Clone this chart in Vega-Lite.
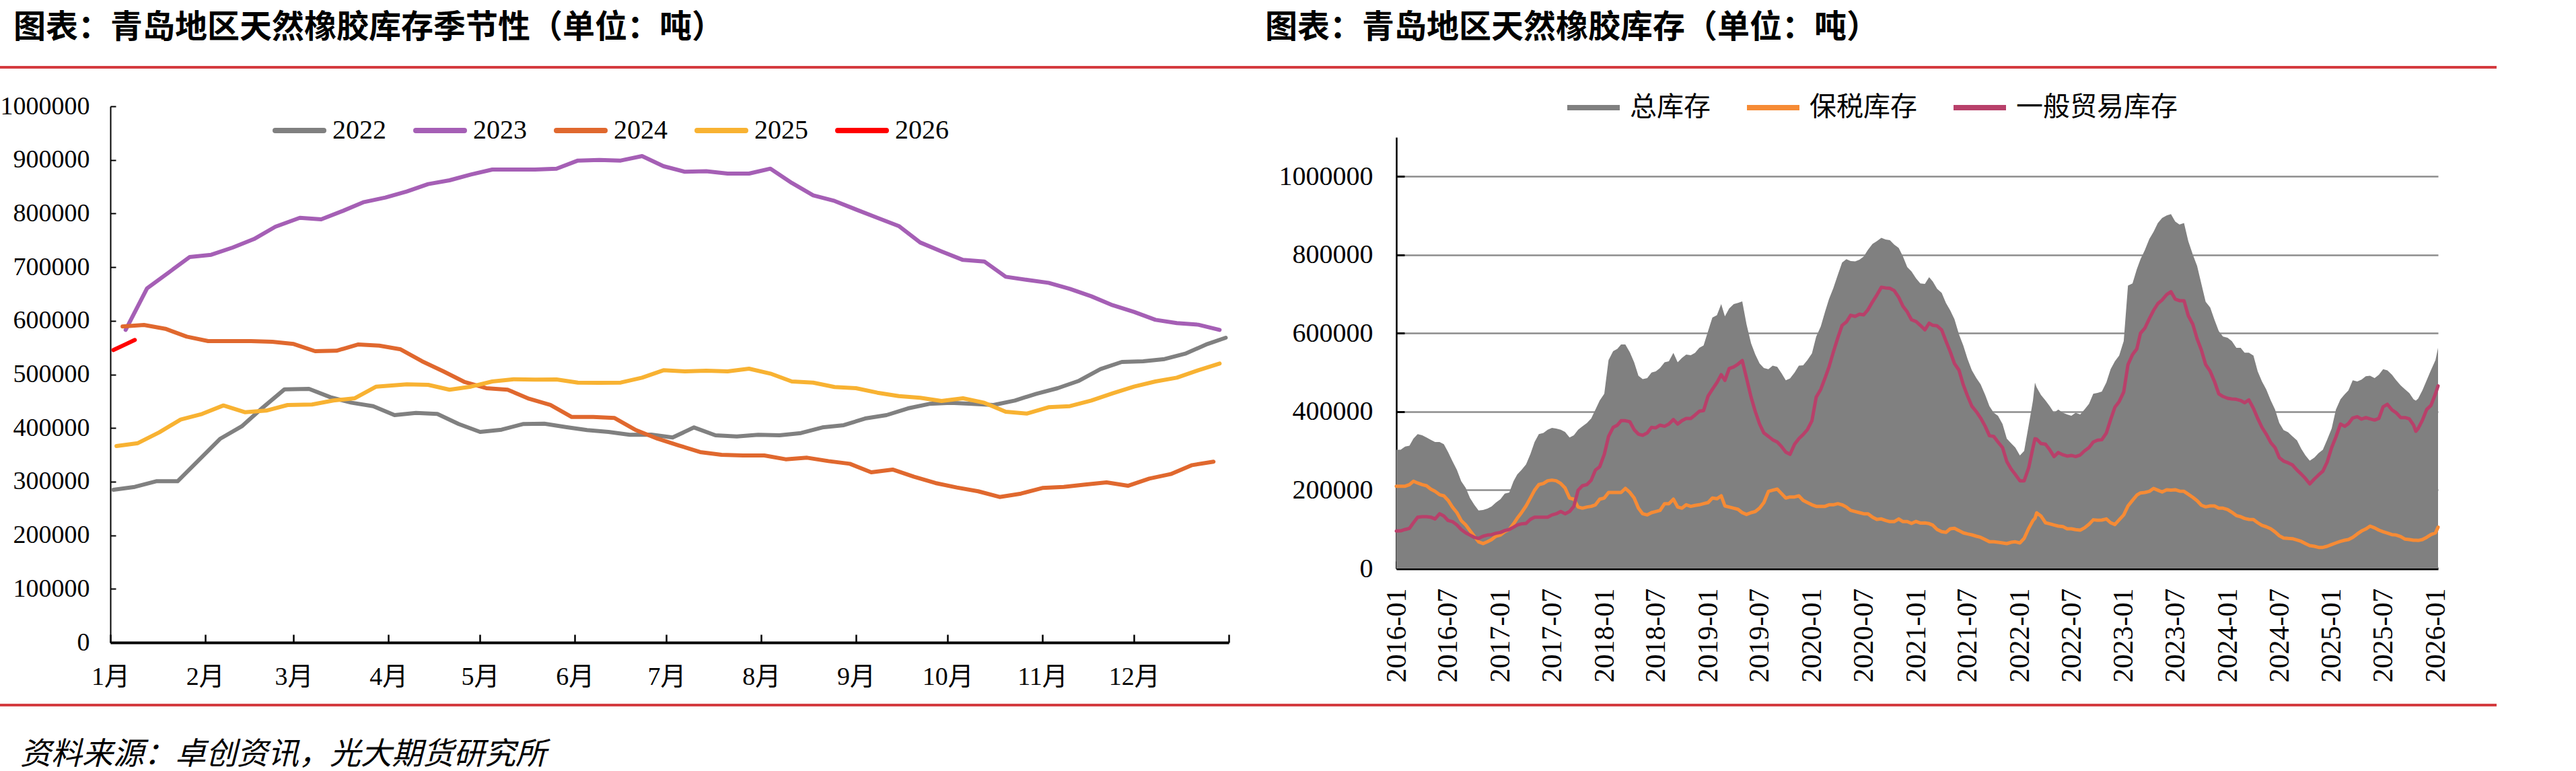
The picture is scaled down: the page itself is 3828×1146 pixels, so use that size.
{
  "$schema": "https://vega.github.io/schema/vega-lite/v6.json",
  "background": "white",
  "padding": {"left": 0, "top": 18, "right": 0, "bottom": 12},
  "config": {
    "view": {"stroke": null},
    "font": "Liberation Serif, Noto Sans CJK SC",
    "axis": {"labelColor": "black", "domainColor": "black", "tickColor": "black", "labelFont": "Liberation Serif, Noto Sans CJK SC", "title": null, "labelOverlap": false},
    "legend": {"labelFont": "Liberation Serif, Noto Sans CJK SC", "labelColor": "black"},
    "title": {"color": "black"}
  },
  "spacing": 21,
  "vconcat": [
    {
      "spacing": 15,
      "vconcat": [
        {
          "spacing": 0,
          "hconcat": [
            {
              "width": 1850, "height": 4,
              "view": {"fill": "#D43B3F", "stroke": null},
              "title": {"text": "图表：青岛地区天然橡胶库存季节性（单位：吨）", "anchor": "start", "dx": 20, "offset": 32, "font": "Noto Sans CJK SC", "fontSize": 48, "fontWeight": "bold", "color": "black"},
              "data": {"values": []},
              "mark": "point"
            },
            {
              "width": 1860, "height": 4,
              "view": {"fill": "#D43B3F", "stroke": null},
              "title": {"text": "图表：青岛地区天然橡胶库存（单位：吨）", "anchor": "start", "dx": 30, "offset": 32, "font": "Noto Sans CJK SC", "fontSize": 48, "fontWeight": "bold", "color": "black"},
              "data": {"values": []},
              "mark": "point"
            }
          ]
        },
        {
          "spacing": 72,
          "resolve": {"scale": {"color": "independent"}, "legend": {"color": "independent"}},
          "hconcat": [
            {
              "width": 1828, "height": 797,
              "data": {"values": [
                {"year":"2022","date":"2022-01-02","value":284800},{"year":"2022","date":"2022-01-09","value":290200},{"year":"2022","date":"2022-01-16","value":300700},{"year":"2022","date":"2022-01-23","value":300700},{"year":"2022","date":"2022-01-30","value":340400},{"year":"2022","date":"2022-02-06","value":380200},{"year":"2022","date":"2022-02-13","value":403200},{"year":"2022","date":"2022-02-20","value":438700},{"year":"2022","date":"2022-02-27","value":472200},{"year":"2022","date":"2022-03-06","value":473000},{"year":"2022","date":"2022-03-13","value":457500},{"year":"2022","date":"2022-03-20","value":447100},{"year":"2022","date":"2022-03-27","value":440800},{"year":"2022","date":"2022-04-03","value":424100},{"year":"2022","date":"2022-04-10","value":428300},{"year":"2022","date":"2022-04-17","value":426200},{"year":"2022","date":"2022-04-24","value":407400},{"year":"2022","date":"2022-05-01","value":392700},{"year":"2022","date":"2022-05-08","value":396900},{"year":"2022","date":"2022-05-15","value":407400},{"year":"2022","date":"2022-05-22","value":408200},{"year":"2022","date":"2022-05-29","value":401900},{"year":"2022","date":"2022-06-05","value":396100},{"year":"2022","date":"2022-06-12","value":392700},{"year":"2022","date":"2022-06-19","value":387300},{"year":"2022","date":"2022-06-26","value":387700},{"year":"2022","date":"2022-07-03","value":382300},{"year":"2022","date":"2022-07-10","value":401100},{"year":"2022","date":"2022-07-17","value":386400},{"year":"2022","date":"2022-07-24","value":384300},{"year":"2022","date":"2022-07-31","value":387300},{"year":"2022","date":"2022-08-07","value":386400},{"year":"2022","date":"2022-08-14","value":390600},{"year":"2022","date":"2022-08-21","value":401100},{"year":"2022","date":"2022-08-28","value":405300},{"year":"2022","date":"2022-09-04","value":417800},{"year":"2022","date":"2022-09-11","value":424100},{"year":"2022","date":"2022-09-18","value":436600},{"year":"2022","date":"2022-09-25","value":445000},{"year":"2022","date":"2022-10-02","value":447100},{"year":"2022","date":"2022-10-09","value":445000},{"year":"2022","date":"2022-10-16","value":442900},{"year":"2022","date":"2022-10-23","value":451300},{"year":"2022","date":"2022-10-30","value":463800},{"year":"2022","date":"2022-11-06","value":474300},{"year":"2022","date":"2022-11-13","value":488100},{"year":"2022","date":"2022-11-20","value":509800},{"year":"2022","date":"2022-11-27","value":523200},{"year":"2022","date":"2022-12-04","value":524500},{"year":"2022","date":"2022-12-11","value":528600},{"year":"2022","date":"2022-12-18","value":539100},{"year":"2022","date":"2022-12-25","value":556700},{"year":"2022","date":"2022-12-31","value":568400},
                {"year":"2023","date":"2023-01-06","value":583000},{"year":"2023","date":"2023-01-13","value":660400},{"year":"2023","date":"2023-01-20","value":689700},{"year":"2023","date":"2023-01-27","value":719000},{"year":"2023","date":"2023-02-03","value":723100},{"year":"2023","date":"2023-02-10","value":736500},{"year":"2023","date":"2023-02-17","value":752400},{"year":"2023","date":"2023-02-24","value":775400},{"year":"2023","date":"2023-03-03","value":792100},{"year":"2023","date":"2023-03-10","value":789200},{"year":"2023","date":"2023-03-17","value":804700},{"year":"2023","date":"2023-03-24","value":821400},{"year":"2023","date":"2023-03-31","value":829800},{"year":"2023","date":"2023-04-07","value":841100},{"year":"2023","date":"2023-04-14","value":854900},{"year":"2023","date":"2023-04-21","value":862000},{"year":"2023","date":"2023-04-28","value":872800},{"year":"2023","date":"2023-05-05","value":882100},{"year":"2023","date":"2023-05-12","value":882100},{"year":"2023","date":"2023-05-19","value":882100},{"year":"2023","date":"2023-05-26","value":883700},{"year":"2023","date":"2023-06-02","value":898800},{"year":"2023","date":"2023-06-09","value":900000},{"year":"2023","date":"2023-06-16","value":898800},{"year":"2023","date":"2023-06-23","value":907100},{"year":"2023","date":"2023-06-30","value":888300},{"year":"2023","date":"2023-07-07","value":877900},{"year":"2023","date":"2023-07-14","value":878900},{"year":"2023","date":"2023-07-21","value":874500},{"year":"2023","date":"2023-07-28","value":874500},{"year":"2023","date":"2023-08-04","value":883700},{"year":"2023","date":"2023-08-11","value":857000},{"year":"2023","date":"2023-08-18","value":834000},{"year":"2023","date":"2023-08-25","value":823500},{"year":"2023","date":"2023-09-01","value":807600},{"year":"2023","date":"2023-09-08","value":792100},{"year":"2023","date":"2023-09-15","value":776700},{"year":"2023","date":"2023-09-22","value":746100},{"year":"2023","date":"2023-09-29","value":729400},{"year":"2023","date":"2023-10-06","value":713500},{"year":"2023","date":"2023-10-13","value":710600},{"year":"2023","date":"2023-10-20","value":682100},{"year":"2023","date":"2023-10-27","value":676300},{"year":"2023","date":"2023-11-03","value":670800},{"year":"2023","date":"2023-11-10","value":659500},{"year":"2023","date":"2023-11-17","value":645700},{"year":"2023","date":"2023-11-24","value":629000},{"year":"2023","date":"2023-12-01","value":616500},{"year":"2023","date":"2023-12-08","value":601800},{"year":"2023","date":"2023-12-15","value":595600},{"year":"2023","date":"2023-12-22","value":592700},{"year":"2023","date":"2023-12-29","value":583000},
                {"year":"2024","date":"2024-01-05","value":589300},{"year":"2024","date":"2024-01-12","value":592200},{"year":"2024","date":"2024-01-19","value":585100},{"year":"2024","date":"2024-01-26","value":570500},{"year":"2024","date":"2024-02-02","value":562100},{"year":"2024","date":"2024-02-09","value":562100},{"year":"2024","date":"2024-02-16","value":562100},{"year":"2024","date":"2024-02-23","value":560900},{"year":"2024","date":"2024-03-01","value":556700},{"year":"2024","date":"2024-03-08","value":543300},{"year":"2024","date":"2024-03-15","value":544100},{"year":"2024","date":"2024-03-22","value":555800},{"year":"2024","date":"2024-03-29","value":553700},{"year":"2024","date":"2024-04-05","value":546700},{"year":"2024","date":"2024-04-12","value":524500},{"year":"2024","date":"2024-04-19","value":505600},{"year":"2024","date":"2024-04-26","value":485600},{"year":"2024","date":"2024-05-03","value":474300},{"year":"2024","date":"2024-05-10","value":471400},{"year":"2024","date":"2024-05-17","value":454600},{"year":"2024","date":"2024-05-24","value":443000},{"year":"2024","date":"2024-05-31","value":420500},{"year":"2024","date":"2024-06-07","value":420700},{"year":"2024","date":"2024-06-14","value":418700},{"year":"2024","date":"2024-06-21","value":396100},{"year":"2024","date":"2024-06-28","value":380200},{"year":"2024","date":"2024-07-05","value":367600},{"year":"2024","date":"2024-07-12","value":355100},{"year":"2024","date":"2024-07-19","value":350100},{"year":"2024","date":"2024-07-26","value":348800},{"year":"2024","date":"2024-08-02","value":348800},{"year":"2024","date":"2024-08-09","value":341700},{"year":"2024","date":"2024-08-16","value":344600},{"year":"2024","date":"2024-08-23","value":338300},{"year":"2024","date":"2024-08-30","value":333300},{"year":"2024","date":"2024-09-06","value":317400},{"year":"2024","date":"2024-09-13","value":322500},{"year":"2024","date":"2024-09-20","value":309100},{"year":"2024","date":"2024-09-27","value":297400},{"year":"2024","date":"2024-10-04","value":289000},{"year":"2024","date":"2024-10-11","value":282000},{"year":"2024","date":"2024-10-18","value":271400},{"year":"2024","date":"2024-10-25","value":277700},{"year":"2024","date":"2024-11-01","value":288200},{"year":"2024","date":"2024-11-08","value":290200},{"year":"2024","date":"2024-11-15","value":294500},{"year":"2024","date":"2024-11-22","value":298600},{"year":"2024","date":"2024-11-29","value":292300},{"year":"2024","date":"2024-12-06","value":305700},{"year":"2024","date":"2024-12-13","value":314100},{"year":"2024","date":"2024-12-20","value":330800},{"year":"2024","date":"2024-12-27","value":337100},
                {"year":"2025","date":"2025-01-03","value":366400},{"year":"2025","date":"2025-01-10","value":371800},{"year":"2025","date":"2025-01-17","value":391900},{"year":"2025","date":"2025-01-24","value":415700},{"year":"2025","date":"2025-01-31","value":426200},{"year":"2025","date":"2025-02-07","value":442100},{"year":"2025","date":"2025-02-14","value":429500},{"year":"2025","date":"2025-02-21","value":432500},{"year":"2025","date":"2025-02-28","value":442900},{"year":"2025","date":"2025-03-07","value":443800},{"year":"2025","date":"2025-03-14","value":451300},{"year":"2025","date":"2025-03-21","value":455500},{"year":"2025","date":"2025-03-28","value":477200},{"year":"2025","date":"2025-04-07","value":481400},{"year":"2025","date":"2025-04-14","value":480600},{"year":"2025","date":"2025-04-21","value":471400},{"year":"2025","date":"2025-04-28","value":477200},{"year":"2025","date":"2025-05-05","value":486800},{"year":"2025","date":"2025-05-12","value":491000},{"year":"2025","date":"2025-05-19","value":490200},{"year":"2025","date":"2025-05-26","value":490500},{"year":"2025","date":"2025-06-02","value":484700},{"year":"2025","date":"2025-06-09","value":484300},{"year":"2025","date":"2025-06-16","value":484700},{"year":"2025","date":"2025-06-23","value":493900},{"year":"2025","date":"2025-06-30","value":507700},{"year":"2025","date":"2025-07-07","value":505600},{"year":"2025","date":"2025-07-14","value":506900},{"year":"2025","date":"2025-07-21","value":505600},{"year":"2025","date":"2025-07-28","value":510700},{"year":"2025","date":"2025-08-04","value":501500},{"year":"2025","date":"2025-08-11","value":486800},{"year":"2025","date":"2025-08-18","value":484700},{"year":"2025","date":"2025-08-25","value":476400},{"year":"2025","date":"2025-09-01","value":474300},{"year":"2025","date":"2025-09-08","value":465900},{"year":"2025","date":"2025-09-15","value":459600},{"year":"2025","date":"2025-09-22","value":456300},{"year":"2025","date":"2025-09-29","value":450400},{"year":"2025","date":"2025-10-06","value":455500},{"year":"2025","date":"2025-10-13","value":447100},{"year":"2025","date":"2025-10-20","value":430400},{"year":"2025","date":"2025-10-27","value":427000},{"year":"2025","date":"2025-11-03","value":438700},{"year":"2025","date":"2025-11-10","value":440800},{"year":"2025","date":"2025-11-17","value":451300},{"year":"2025","date":"2025-11-24","value":464700},{"year":"2025","date":"2025-12-01","value":477200},{"year":"2025","date":"2025-12-08","value":486800},{"year":"2025","date":"2025-12-15","value":493900},{"year":"2025","date":"2025-12-22","value":507700},{"year":"2025","date":"2025-12-29","value":520300},
                {"year":"2026","date":"2026-01-02","value":545400},{"year":"2026","date":"2026-01-09","value":564200}
              ]},
              "mark": {"type": "line", "strokeWidth": 6, "strokeCap": "round", "strokeJoin": "round"},
              "encoding": {
                "x": {
                  "field": "date", "type": "temporal", "timeUnit": "utcmonthdate",
                  "scale": {"domain": [{"year": 2012, "month": 1, "date": 1, "utc": true}, {"year": 2013, "month": 1, "date": 1, "utc": true}], "range": [164, 1826]},
                  "axis": {
                    "values": [
                      {"year": 2012, "month": 1, "date": 1, "utc": true}, {"year": 2012, "month": 2, "date": 1, "utc": true}, {"year": 2012, "month": 3, "date": 1, "utc": true}, {"year": 2012, "month": 4, "date": 1, "utc": true}, {"year": 2012, "month": 5, "date": 1, "utc": true}, {"year": 2012, "month": 6, "date": 1, "utc": true}, {"year": 2012, "month": 7, "date": 1, "utc": true}, {"year": 2012, "month": 8, "date": 1, "utc": true}, {"year": 2012, "month": 9, "date": 1, "utc": true}, {"year": 2012, "month": 10, "date": 1, "utc": true}, {"year": 2012, "month": 11, "date": 1, "utc": true}, {"year": 2012, "month": 12, "date": 1, "utc": true}, {"year": 2013, "month": 1, "date": 1, "utc": true}
                    ],
                    "labelExpr": "utcyear(datum.value) > 2012 ? '' : (utcmonth(datum.value) + 1) + '月'",
                    "labelFontSize": 38, "labelPadding": 44, "labelFlush": false, "labelAngle": 0, "labelBaseline": "top",
                    "tickSize": -12, "tickWidth": 2.5, "domainWidth": 4, "grid": false
                  }
                },
                "y": {
                  "field": "value", "type": "quantitative",
                  "scale": {"domain": [0, 1000000], "nice": false},
                  "axis": {"values": [0, 100000, 200000, 300000, 400000, 500000, 600000, 700000, 800000, 900000, 1000000], "format": "d", "offset": -164, "labelFontSize": 38, "labelPadding": 39, "tickSize": -8, "tickWidth": 2, "domainWidth": 2, "grid": false}
                },
                "color": {
                  "field": "year", "type": "nominal", "title": null,
                  "scale": {"domain": ["2022", "2023", "2024", "2025", "2026"], "range": ["#808080", "#A55FB5", "#E0682E", "#F8B232", "#FF0000"]},
                  "legend": {
                    "orient": "none", "legendX": 405, "legendY": -4, "direction": "horizontal", "columns": 5, "title": null,
                    "labelFontSize": 40, "symbolType": "stroke", "symbolSize": 5184, "symbolStrokeWidth": 8,
                    "labelOffset": 9, "columnPadding": 28, "padding": 0, "rowPadding": 0,
                    "encode": {"symbols": {"update": {"strokeCap": {"value": "round"}, "opacity": {"value": 1}}}}
                  }
                }
              }
            },
            {
              "width": 1548, "height": 687,
              "data": {"values": [
                {"date":"2016-01-01","总库存":302700,"保税库存":210000,"一般贸易库存":95500},
                {"date":"2016-01-16","总库存":303000,"保税库存":210000,"一般贸易库存":96000},
                {"date":"2016-02-01","总库存":311200,"保税库存":210000,"一般贸易库存":99600},
                {"date":"2016-02-16","总库存":313000,"保税库存":214000,"一般贸易库存":102400},
                {"date":"2016-03-01","总库存":331300,"保税库存":222600,"一般贸易库存":116700},
                {"date":"2016-03-16","总库存":342700,"保税库存":218000,"一般贸易库存":131000},
                {"date":"2016-04-01","总库存":339800,"保税库存":214000,"一般贸易库存":132200},
                {"date":"2016-04-16","总库存":334100,"保税库存":211100,"一般贸易库存":132200},
                {"date":"2016-05-01","总库存":328400,"保税库存":202500,"一般贸易库存":131000},
                {"date":"2016-05-16","总库存":322700,"保税库存":196800,"一般贸易库存":126400},
                {"date":"2016-06-01","总库存":322700,"保税库存":188200,"一般贸易库存":139600},
                {"date":"2016-06-16","总库存":317000,"保税库存":185400,"一般贸易库存":133900},
                {"date":"2016-07-01","总库存":296900,"保税库存":173900,"一般贸易库存":122400},
                {"date":"2016-07-16","总库存":274000,"保税库存":156800,"一般贸易库存":119600},
                {"date":"2016-08-01","总库存":251200,"保税库存":142500,"一般贸易库存":111000},
                {"date":"2016-08-16","总库存":222600,"保税库存":122400,"一般贸易库存":99600},
                {"date":"2016-09-01","总库存":205400,"保税库存":111000,"一般贸易库存":91000},
                {"date":"2016-09-16","总库存":179600,"保税库存":96700,"一般贸易库存":85200},
                {"date":"2016-10-01","总库存":162500,"保税库存":82400,"一般贸易库存":79500},
                {"date":"2016-10-16","总库存":148200,"保税库存":68100,"一般贸易库存":76700},
                {"date":"2016-11-01","总库存":149300,"保税库存":63500,"一般贸易库存":82400},
                {"date":"2016-11-16","总库存":152800,"保税库存":68100,"一般贸易库存":85200},
                {"date":"2016-12-01","总库存":158500,"保税库存":73800,"一般贸易库存":86400},
                {"date":"2016-12-16","总库存":168200,"保税库存":82400,"一般贸易库存":89800},
                {"date":"2017-01-01","总库存":176800,"保税库存":85200,"一般贸易库存":92100},
                {"date":"2017-01-16","总库存":191100,"保税库存":93800,"一般贸易库存":96700},
                {"date":"2017-02-01","总库存":194000,"保税库存":99600,"一般贸易库存":99600},
                {"date":"2017-02-16","总库存":222600,"保税库存":113900,"一般贸易库存":105300},
                {"date":"2017-03-01","总库存":239700,"保税库存":128200,"一般贸易库存":111000},
                {"date":"2017-03-16","总库存":251200,"保税库存":142500,"一般贸易库存":113900},
                {"date":"2017-04-01","总库存":265500,"保税库存":159600,"一般贸易库存":115000},
                {"date":"2017-04-16","总库存":291200,"保税库存":179600,"一般贸易库存":125300},
                {"date":"2017-05-01","总库存":322700,"保税库存":199700,"一般贸易库存":131000},
                {"date":"2017-05-16","总库存":342700,"保税库存":214000,"一般贸易库存":131000},
                {"date":"2017-06-01","总库存":345600,"保税库存":216800,"一般贸易库存":131000},
                {"date":"2017-06-16","总库存":354100,"保税库存":223700,"一般贸易库存":131000},
                {"date":"2017-07-01","总库存":358700,"保税库存":225400,"一般贸易库存":136700},
                {"date":"2017-07-16","总库存":357000,"保税库存":223700,"一般贸易库存":139600},
                {"date":"2017-08-01","总库存":354100,"保税库存":216800,"一般贸易库存":145300},
                {"date":"2017-08-16","总库存":348400,"保税库存":205400,"一般贸易库存":139600},
                {"date":"2017-09-01","总库存":334100,"保税库存":179600,"一般贸易库存":145300},
                {"date":"2017-09-16","总库存":339800,"保税库存":176800,"一般贸易库存":158500},
                {"date":"2017-10-01","总库存":354100,"保税库存":156800,"一般贸易库存":199700},
                {"date":"2017-10-16","总库存":362700,"保税库存":153900,"一般贸易库存":211100},
                {"date":"2017-11-01","总库存":371300,"保税库存":156800,"一般贸易库存":214000},
                {"date":"2017-11-16","总库存":382800,"保税库存":158500,"一般贸易库存":225400},
                {"date":"2017-12-01","总库存":405600,"保税库存":162500,"一般贸易库存":251200},
                {"date":"2017-12-16","总库存":428500,"保税库存":176800,"一般贸易库存":259700},
                {"date":"2018-01-01","总库存":445700,"保税库存":179600,"一般贸易库存":291200},
                {"date":"2018-01-16","总库存":531500,"保税库存":194000,"一般贸易库存":337000},
                {"date":"2018-02-01","总库存":554400,"保税库存":194000,"一般贸易库存":359900},
                {"date":"2018-02-16","总库存":560100,"保税库存":194000,"一般贸易库存":365600},
                {"date":"2018-03-01","总库存":571600,"保税库存":194000,"一般贸易库存":377000},
                {"date":"2018-03-16","总库存":571600,"保税库存":204300,"一般贸易库存":377000},
                {"date":"2018-04-01","总库存":551500,"保税库存":194000,"一般贸易库存":374200},
                {"date":"2018-04-16","总库存":525800,"保税库存":179600,"一般贸易库存":354100},
                {"date":"2018-05-01","总库存":491500,"保税库存":153900,"一般贸易库存":342700},
                {"date":"2018-05-16","总库存":482900,"保税库存":139600,"一般贸易库存":339800},
                {"date":"2018-06-01","总库存":485700,"保税库存":136700,"一般贸易库存":345600},
                {"date":"2018-06-16","总库存":500000,"保税库存":142500,"一般贸易库存":359900},
                {"date":"2018-07-01","总库存":502900,"保税库存":145300,"一般贸易库存":358700},
                {"date":"2018-07-16","总库存":511500,"保税库存":148200,"一般贸易库存":365600},
                {"date":"2018-08-01","总库存":525800,"保税库存":165300,"一般贸易库存":362700},
                {"date":"2018-08-16","总库存":528600,"保税库存":165300,"一般贸易库存":368500},
                {"date":"2018-09-01","总库存":549800,"保税库存":176800,"一般贸易库存":379900},
                {"date":"2018-09-16","总库存":525800,"保税库存":156800,"一般贸易库存":368500},
                {"date":"2018-10-01","总库存":537200,"保税库存":153900,"一般贸易库存":377000},
                {"date":"2018-10-16","总库存":545800,"保税库存":162500,"一般贸易库存":382800},
                {"date":"2018-11-01","总库存":544100,"保税库存":158500,"一般贸易库存":382800},
                {"date":"2018-11-16","总库存":549800,"保税库存":160800,"一般贸易库存":391300},
                {"date":"2018-12-01","总库存":563000,"保税库存":162500,"一般贸易库存":401100},
                {"date":"2018-12-16","总库存":568700,"保税库存":165300,"一般贸易库存":402800},
                {"date":"2019-01-01","总库存":605900,"保税库存":168200,"一般贸易库存":440000},
                {"date":"2019-01-16","总库存":640200,"保税库存":179600,"一般贸易库存":457100},
                {"date":"2019-02-01","总库存":645900,"保税库存":177900,"一般贸易库存":474300},
                {"date":"2019-02-16","总库存":674500,"保税库存":185400,"一般贸易库存":494300},
                {"date":"2019-03-01","总库存":643100,"保税库存":159600,"一般贸易库存":480000},
                {"date":"2019-03-16","总库存":663100,"保税库存":156800,"一般贸易库存":509800},
                {"date":"2019-04-01","总库存":674500,"保税库存":153900,"一般贸易库存":514300},
                {"date":"2019-04-16","总库存":677400,"保税库存":151000,"一般贸易库存":521200},
                {"date":"2019-05-01","总库存":681400,"保税库存":142500,"一般贸易库存":530400},
                {"date":"2019-05-16","总库存":623000,"保税库存":137900,"一般贸易库存":485700},
                {"date":"2019-06-01","总库存":574400,"保税库存":142500,"一般贸易库存":437100},
                {"date":"2019-06-16","总库存":545800,"保税库存":145300,"一般贸易库存":399900},
                {"date":"2019-07-01","总库存":522900,"保税库存":153900,"一般贸易库存":368500},
                {"date":"2019-07-16","总库存":511500,"保税库存":168200,"一般贸易库存":345600},
                {"date":"2019-08-01","总库存":508600,"保税库存":196800,"一般贸易库存":337000},
                {"date":"2019-08-16","总库存":517200,"保税库存":199700,"一般贸易库存":328400},
                {"date":"2019-09-01","总库存":514300,"保税库存":202500,"一般贸易库存":322700},
                {"date":"2019-09-16","总库存":498300,"保税库存":191100,"一般贸易库存":311200},
                {"date":"2019-10-01","总库存":480000,"保税库存":179600,"一般贸易库存":296900},
                {"date":"2019-10-16","总库存":484600,"保税库存":182500,"一般贸易库存":291200},
                {"date":"2019-11-01","总库存":500000,"保税库存":182500,"一般贸易库存":317000},
                {"date":"2019-11-16","总库存":517200,"保税库存":185400,"一般贸易库存":331300},
                {"date":"2019-12-01","总库存":518400,"保税库存":173900,"一般贸易库存":341600},
                {"date":"2019-12-16","总库存":531500,"保税库存":168200,"一般贸易库存":354100},
                {"date":"2020-01-01","总库存":548700,"保税库存":162500,"一般贸易库存":377000},
                {"date":"2020-01-16","总库存":591600,"保税库存":158500,"一般贸易库存":437100},
                {"date":"2020-02-01","总库存":617300,"保税库存":158500,"一般贸易库存":457100},
                {"date":"2020-02-16","总库存":654500,"保税库存":158500,"一般贸易库存":485700},
                {"date":"2020-03-01","总库存":687100,"保税库存":162500,"一般贸易库存":514300},
                {"date":"2020-03-16","总库存":714600,"保税库存":162500,"一般贸易库存":551500},
                {"date":"2020-04-01","总库存":748900,"保税库存":165300,"一般贸易库存":588700},
                {"date":"2020-04-16","总库存":780400,"保税库存":162500,"一般贸易库存":620200},
                {"date":"2020-05-01","总库存":789000,"保税库存":156800,"一般贸易库存":628800},
                {"date":"2020-05-16","总库存":784400,"保税库存":148200,"一般贸易库存":645900},
                {"date":"2020-06-01","总库存":783300,"保税库存":145300,"一般贸易库存":643100},
                {"date":"2020-06-16","总库存":787800,"保税库存":142500,"一般贸易库存":648800},
                {"date":"2020-07-01","总库存":795800,"保税库存":139600,"一般贸易库存":647100},
                {"date":"2020-07-16","总库存":813000,"保税库存":139600,"一般贸易库存":660200},
                {"date":"2020-08-01","总库存":827900,"保税库存":131000,"一般贸易库存":680300},
                {"date":"2020-08-16","总库存":834700,"保税库存":125300,"一般贸易库存":697400},
                {"date":"2020-09-01","总库存":843300,"保税库存":126400,"一般贸易库存":717500},
                {"date":"2020-09-16","总库存":839300,"保税库存":122400,"一般贸易库存":715700},
                {"date":"2020-10-01","总库存":837600,"保税库存":119600,"一般贸易库存":714600},
                {"date":"2020-10-16","总库存":826200,"保税库存":119600,"一般贸易库存":708900},
                {"date":"2020-11-01","总库存":817600,"保税库存":126400,"一般贸易库存":691700},
                {"date":"2020-11-16","总库存":795800,"保税库存":119600,"一般贸易库存":668800},
                {"date":"2020-12-01","总库存":769000,"保税库存":119600,"一般贸易库存":654500},
                {"date":"2020-12-16","总库存":757500,"保税库存":115000,"一般贸易库存":634500},
                {"date":"2021-01-01","总库存":740000,"保税库存":120000,"一般贸易库存":630000},
                {"date":"2021-01-16","总库存":727200,"保税库存":116000,"一般贸易库存":620200},
                {"date":"2021-02-01","总库存":726000,"保税库存":116100,"一般贸易库存":608700},
                {"date":"2021-02-16","总库存":743200,"保税库存":114400,"一般贸易库存":625900},
                {"date":"2021-03-01","总库存":731800,"保税库存":110400,"一般贸易库存":620200},
                {"date":"2021-03-16","总库存":713400,"保税库存":99600,"一般贸易库存":619000},
                {"date":"2021-04-01","总库存":703100,"保税库存":93800,"一般贸易库存":608700},
                {"date":"2021-04-16","总库存":677400,"保税库存":92100,"一般贸易库存":580100},
                {"date":"2021-05-01","总库存":658500,"保税库存":101300,"一般贸易库存":553200},
                {"date":"2021-05-16","总库存":635600,"保税库存":102400,"一般贸易库存":522900},
                {"date":"2021-06-01","总库存":597300,"保税库存":96700,"一般贸易库存":505800},
                {"date":"2021-06-16","总库存":568700,"保税库存":91000,"一般贸易库存":468600},
                {"date":"2021-07-01","总库存":534400,"保税库存":88100,"一般贸易库存":440000},
                {"date":"2021-07-16","总库存":505800,"保税库存":85800,"一般贸易库存":414200},
                {"date":"2021-08-01","总库存":485700,"保税库存":82400,"一般贸易库存":399900},
                {"date":"2021-08-16","总库存":469700,"保税库存":79500,"一般贸易库存":383900},
                {"date":"2021-09-01","总库存":442800,"保税库存":73800,"一般贸易库存":362700},
                {"date":"2021-09-16","总库存":414200,"保税库存":68100,"一般贸易库存":338700},
                {"date":"2021-10-01","总库存":397100,"保税库存":68100,"一般贸易库存":337000},
                {"date":"2021-10-16","总库存":389600,"保税库存":66900,"一般贸易库存":322700},
                {"date":"2021-11-01","总库存":368500,"保税库存":65200,"一般贸易库存":308400},
                {"date":"2021-11-16","总库存":331300,"保税库存":63500,"一般贸易库存":272900},
                {"date":"2021-12-01","总库存":319800,"保税库存":66900,"一般贸易库存":254000},
                {"date":"2021-12-16","总库存":308400,"保税库存":68100,"一般贸易库存":239700},
                {"date":"2022-01-01","总库存":288400,"保税库存":65200,"一般贸易库存":223700},
                {"date":"2022-01-16","总库存":299800,"保税库存":76700,"一般贸易库存":223700},
                {"date":"2022-02-01","总库存":365600,"保税库存":102400,"一般贸易库存":256900},
                {"date":"2022-02-16","总库存":428500,"保税库存":122400,"一般贸易库存":308400},
                {"date":"2022-02-23","总库存":474000,"保税库存":128000,"一般贸易库存":331000},
                {"date":"2022-03-01","总库存":462000,"保税库存":142000,"一般贸易库存":330100},
                {"date":"2022-03-16","总库存":442800,"保税库存":133900,"一般贸易库存":318700},
                {"date":"2022-04-01","总库存":428500,"保税库存":116700,"一般贸易库存":317000},
                {"date":"2022-04-16","总库存":414200,"保税库存":113900,"一般贸易库存":302700},
                {"date":"2022-05-01","总库存":397100,"保税库存":111000,"一般贸易库存":285500},
                {"date":"2022-05-16","总库存":405600,"保税库存":108100,"一般贸易库存":295800},
                {"date":"2022-06-01","总库存":397100,"保税库存":107000,"一般贸易库存":290100},
                {"date":"2022-06-16","总库存":393100,"保税库存":101300,"一般贸易库存":286600},
                {"date":"2022-07-01","总库存":389600,"保税库存":101300,"一般贸易库存":288400},
                {"date":"2022-07-16","总库存":397100,"保税库存":99000,"一般贸易库存":285500},
                {"date":"2022-08-01","总库存":393100,"保税库存":97800,"一般贸易库存":289500},
                {"date":"2022-08-16","总库存":405600,"保税库存":103600,"一般贸易库存":299800},
                {"date":"2022-09-01","总库存":419900,"保税库存":112700,"一般贸易库存":308400},
                {"date":"2022-09-16","总库存":445700,"保税库存":124200,"一般贸易库存":322700},
                {"date":"2022-10-01","总库存":448000,"保税库存":123000,"一般贸易库存":327300},
                {"date":"2022-10-16","总库存":451400,"保税库存":123600,"一般贸易库存":328400},
                {"date":"2022-11-01","总库存":474300,"保税库存":126400,"一般贸易库存":345600},
                {"date":"2022-11-16","总库存":508600,"保税库存":116700,"一般贸易库存":379900},
                {"date":"2022-12-01","总库存":528600,"保税库存":112100,"一般贸易库存":411400},
                {"date":"2022-12-16","总库存":543000,"保税库存":124200,"一般贸易库存":425700},
                {"date":"2023-01-01","总库存":580100,"保税库存":136700,"一般贸易库存":450300},
                {"date":"2023-01-16","总库存":721500,"保税库存":159600,"一般贸易库存":520100},
                {"date":"2023-02-01","总库存":727200,"保税库存":173900,"一般贸易库存":545800},
                {"date":"2023-02-16","总库存":763200,"保税库存":187100,"一般贸易库存":560100},
                {"date":"2023-03-01","总库存":789000,"保税库存":192800,"一般贸易库存":600200},
                {"date":"2023-03-16","总库存":811900,"保税库存":194000,"一般贸易库存":612700},
                {"date":"2023-04-01","总库存":840500,"保税库存":196800,"一般贸易库存":637300},
                {"date":"2023-04-16","总库存":858800,"保税库存":204300,"一般贸易库存":658500},
                {"date":"2023-05-01","总库存":881100,"保税库存":199700,"一般贸易库存":675700},
                {"date":"2023-05-16","总库存":894200,"保税库存":195100,"一般贸易库存":684800},
                {"date":"2023-06-01","总库存":900300,"保税库存":200800,"一般贸易库存":698600},
                {"date":"2023-06-16","总库存":904100,"保税库存":200000,"一般贸易库存":706000},
                {"date":"2023-07-01","总库存":885000,"保税库存":200800,"一般贸易库存":687100},
                {"date":"2023-07-16","总库存":877300,"保税库存":197400,"一般贸易库存":683100},
                {"date":"2023-08-01","总库存":881100,"保税库存":196800,"一般贸易库存":683100},
                {"date":"2023-08-16","总库存":834700,"保税库存":189400,"一般贸易库存":644800},
                {"date":"2023-09-01","总库存":800400,"保税库存":181400,"一般贸易库存":623000},
                {"date":"2023-09-16","总库存":771800,"保税库存":172800,"一般贸易库存":585900},
                {"date":"2023-10-01","总库存":726000,"保税库存":161300,"一般贸易库存":557300},
                {"date":"2023-10-16","总库存":680300,"保税库存":157300,"一般贸易库存":520100},
                {"date":"2023-11-01","总库存":666000,"保税库存":159600,"一般贸易库存":502900},
                {"date":"2023-11-16","总库存":634500,"保税库存":159600,"一般贸易库存":477200},
                {"date":"2023-12-01","总库存":605900,"保税库存":153900,"一般贸易库存":445700},
                {"date":"2023-12-16","总库存":591600,"保税库存":153900,"一般贸易库存":438800},
                {"date":"2024-01-01","总库存":588700,"保税库存":150500,"一般贸易库存":434200},
                {"date":"2024-01-16","总库存":580100,"保税库存":143600,"一般贸易库存":432500},
                {"date":"2024-02-01","总库存":563000,"保税库存":135000,"一般贸易库存":431400},
                {"date":"2024-02-16","总库存":563000,"保税库存":132200,"一般贸易库存":428500},
                {"date":"2024-03-01","总库存":550400,"保税库存":127600,"一般贸易库存":422800},
                {"date":"2024-03-16","总库存":550400,"保税库存":125300,"一般贸易库存":430200},
                {"date":"2024-04-01","总库存":543000,"保税库存":124700,"一般贸易库存":408500},
                {"date":"2024-04-16","总库存":502900,"保税库存":116700,"一般贸易库存":382800},
                {"date":"2024-05-01","总库存":477200,"保税库存":109900,"一般贸易库存":359900},
                {"date":"2024-05-16","总库存":457100,"保税库存":106400,"一般贸易库存":342700},
                {"date":"2024-06-01","总库存":428500,"保税库存":101300,"一般贸易库存":321000},
                {"date":"2024-06-16","总库存":405600,"保税库存":93300,"一般贸易库存":308400},
                {"date":"2024-07-01","总库存":371300,"保税库存":83500,"一般贸易库存":282600},
                {"date":"2024-07-16","总库存":353000,"保税库存":77800,"一般贸易库存":274000},
                {"date":"2024-08-01","总库存":347300,"保税库存":76700,"一般贸易库存":269500},
                {"date":"2024-08-16","总库存":337000,"保税库存":76100,"一般贸易库存":264300},
                {"date":"2024-09-01","总库存":326700,"保税库存":72700,"一般贸易库存":251200},
                {"date":"2024-09-16","总库存":305500,"保税库存":69200,"一般贸易库存":240900},
                {"date":"2024-10-01","总库存":288400,"保税库存":63500,"一般贸易库存":229400},
                {"date":"2024-10-16","总库存":275200,"保税库存":58400,"一般贸易库存":215700},
                {"date":"2024-11-01","总库存":282600,"保税库存":56600,"一般贸易库存":228300},
                {"date":"2024-11-16","总库存":294100,"保税库存":53800,"一般贸易库存":238600},
                {"date":"2024-12-01","总库存":302700,"保税库存":53800,"一般贸易库存":248300},
                {"date":"2024-12-16","总库存":328400,"保税库存":56600,"一般贸易库存":271200},
                {"date":"2025-01-01","总库存":357000,"保税库存":61200,"一般贸易库存":308400},
                {"date":"2025-01-16","总库存":405600,"保税库存":65200,"一般贸易库存":335800},
                {"date":"2025-02-01","总库存":431400,"保税库存":69200,"一般贸易库存":368500},
                {"date":"2025-02-16","总库存":444500,"保税库存":72100,"一般贸易库存":362700},
                {"date":"2025-03-01","总库存":454300,"保税库存":73800,"一般贸易库存":369600},
                {"date":"2025-03-16","总库存":480000,"保税库存":79500,"一般贸易库存":383900},
                {"date":"2025-04-01","总库存":477200,"保税库存":88100,"一般贸易库存":387300},
                {"date":"2025-04-16","总库存":481700,"保税库存":95500,"一般贸易库存":381000},
                {"date":"2025-05-01","总库存":490300,"保税库存":100700,"一般贸易库存":385000},
                {"date":"2025-05-16","总库存":491500,"保税库存":108100,"一般贸易库存":381600},
                {"date":"2025-06-01","总库存":485700,"保税库存":103600,"一般贸易库存":378700},
                {"date":"2025-06-16","总库存":494300,"保税库存":97800,"一般贸易库存":382800},
                {"date":"2025-07-01","总库存":508600,"保税库存":93800,"一般贸易库存":412500},
                {"date":"2025-07-16","总库存":505200,"保税库存":90400,"一般贸易库存":418800},
                {"date":"2025-08-01","总库存":494300,"保税库存":86400,"一般贸易库存":404500},
                {"date":"2025-08-16","总库存":480000,"保税库存":85200,"一般贸易库存":397100},
                {"date":"2025-09-01","总库存":466900,"保税库存":81200,"一般贸易库存":385000},
                {"date":"2025-09-16","总库存":457100,"保税库存":74900,"一般贸易库存":385000},
                {"date":"2025-10-01","总库存":447400,"保税库存":73800,"一般贸易库存":381600},
                {"date":"2025-10-16","总库存":431400,"保税库存":72100,"一般贸易库存":365600},
                {"date":"2025-10-24","总库存":428000,"保税库存":72000,"一般贸易库存":350000},
                {"date":"2025-11-01","总库存":433100,"保税库存":71500,"一般贸易库存":357000},
                {"date":"2025-11-16","总库存":454300,"保税库存":73800,"一般贸易库存":378200},
                {"date":"2025-12-01","总库存":480000,"保税库存":79500,"一般贸易库存":405600},
                {"date":"2025-12-16","总库存":505800,"保税库存":86400,"一般贸易库存":416000},
                {"date":"2026-01-01","总库存":531500,"保税库存":91000,"一般贸易库存":445700},
                {"date":"2026-01-10","总库存":563000,"保税库存":105300,"一般贸易库存":465700}
              ]},
              "encoding": {
                "x": {
                  "field": "date", "type": "temporal",
                  "scale": {"type": "utc", "domain": [{"year": 2016, "month": 1, "date": 1, "utc": true}, {"year": 2026, "month": 1, "date": 10, "utc": true}]},
                  "axis": {
                    "values": [
                      {"year": 2016, "month": 1, "date": 1, "utc": true}, {"year": 2016, "month": 7, "date": 1, "utc": true},
                      {"year": 2017, "month": 1, "date": 1, "utc": true}, {"year": 2017, "month": 7, "date": 1, "utc": true},
                      {"year": 2018, "month": 1, "date": 1, "utc": true}, {"year": 2018, "month": 7, "date": 1, "utc": true},
                      {"year": 2019, "month": 1, "date": 1, "utc": true}, {"year": 2019, "month": 7, "date": 1, "utc": true},
                      {"year": 2020, "month": 1, "date": 1, "utc": true}, {"year": 2020, "month": 7, "date": 1, "utc": true},
                      {"year": 2021, "month": 1, "date": 1, "utc": true}, {"year": 2021, "month": 7, "date": 1, "utc": true},
                      {"year": 2022, "month": 1, "date": 1, "utc": true}, {"year": 2022, "month": 7, "date": 1, "utc": true},
                      {"year": 2023, "month": 1, "date": 1, "utc": true}, {"year": 2023, "month": 7, "date": 1, "utc": true},
                      {"year": 2024, "month": 1, "date": 1, "utc": true}, {"year": 2024, "month": 7, "date": 1, "utc": true},
                      {"year": 2025, "month": 1, "date": 1, "utc": true}, {"year": 2025, "month": 7, "date": 1, "utc": true},
                      {"year": 2026, "month": 1, "date": 1, "utc": true}
                    ],
                    "labelExpr": "utcFormat(datum.value, '%Y-%m')",
                    "labelAngle": 270, "labelAlign": "right", "labelBaseline": "middle", "labelFontSize": 42, "labelPadding": 40, "labelFlush": false,
                    "tickSize": -11, "tickWidth": 2.5, "domainWidth": 4, "grid": false
                  }
                }
              },
              "layer": [
                {
                  "mark": {"type": "area", "line": false, "opacity": 1},
                  "encoding": {
                    "y": {
                      "field": "总库存", "type": "quantitative",
                      "scale": {"domain": [0, 1100000], "nice": false, "range": [687, 46]},
                      "axis": {"values": [0, 200000, 400000, 600000, 800000, 1000000], "format": "d", "labelFontSize": 40, "labelPadding": 47, "tickSize": -12, "tickWidth": 3, "domainWidth": 2.5, "grid": true, "gridColor": "#8C8C8C", "gridWidth": 2.5}
                    },
                    "color": {
                      "datum": "总库存", "type": "nominal", "title": null,
                      "scale": {"domain": ["总库存", "保税库存", "一般贸易库存"], "range": ["#808080", "#F68B35", "#B8406A"]},
                      "legend": {
                        "orient": "none", "legendX": 250, "legendY": -41, "direction": "horizontal", "columns": 3, "title": null,
                        "labelFontSize": 40, "labelLimit": 0, "symbolType": "stroke", "symbolSize": 6084, "symbolStrokeWidth": 8,
                        "labelOffset": 11, "columnPadding": 38, "padding": 0, "rowPadding": 0,
                        "values": ["总库存", "保税库存", "一般贸易库存"],
                        "encode": {"symbols": {"update": {
                          "strokeWidth": {"signal": "datum.value === '总库存' ? 20 : 8"},
                          "strokeCap": {"signal": "datum.value === '总库存' ? 'butt' : 'round'"},
                          "stroke": {"signal": "datum.value === '总库存' ? '#808080' : datum.value === '保税库存' ? '#F68B35' : '#B8406A'"},
                          "opacity": {"value": 1}
                        }}}
                      }
                    }
                  }
                },
                {
                  "transform": [{"fold": ["保税库存", "一般贸易库存"], "as": ["series", "value"]}],
                  "mark": {"type": "line", "strokeWidth": 5, "strokeJoin": "round", "strokeCap": "round"},
                  "encoding": {
                    "y": {"field": "value", "type": "quantitative"},
                    "color": {"field": "series", "type": "nominal", "title": null}
                  }
                }
              ]
            }
          ]
        }
      ]
    },
    {
      "width": 3710, "height": 4,
      "view": {"fill": "#D43B3F", "stroke": null},
      "title": {"text": "资料来源：卓创资讯，光大期货研究所", "orient": "bottom", "anchor": "start", "dx": 30, "offset": 50, "font": "Noto Sans CJK SC", "fontSize": 46, "fontStyle": "italic", "fontWeight": "normal", "color": "black"},
      "data": {"values": []},
      "mark": "point"
    }
  ]
}
